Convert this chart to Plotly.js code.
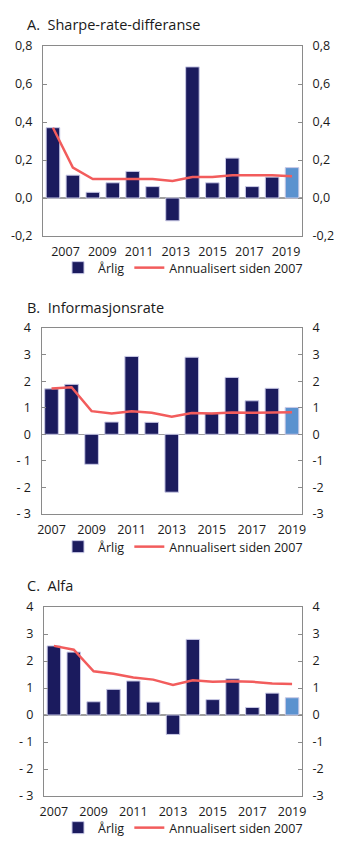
<!DOCTYPE html>
<html>
<head>
<meta charset="utf-8">
<script src="https://cdn.plot.ly/plotly-3.0.1.min.js"></script>
<style>
html,body{margin:0;padding:0;background:#fff;}
#chart{width:345px;height:851px;}
</style>
</head>
<body>
<div id="chart"></div>
<script>
const years = [2007,2008,2009,2010,2011,2012,2013,2014,2015,2016,2017,2018,2019];
const xTickLabels = ['2007','2009','2011','2013','2015','2017','2019'];

const sharpeAnnual = [0.37,0.12,0.03,0.08,0.14,0.06,-0.12,0.69,0.08,0.21,0.06,0.11,0.16];
const sharpeSince  = [0.37,0.16,0.10,0.10,0.10,0.10,0.09,0.11,0.11,0.12,0.12,0.12,0.115];

const infoAnnual = [1.71,1.88,-1.13,0.46,2.93,0.45,-2.18,2.90,0.80,2.14,1.26,1.73,1.01];
const infoSince  = [1.72,1.77,0.87,0.78,0.87,0.81,0.66,0.80,0.78,0.82,0.81,0.83,0.83];

const alfaAnnual = [2.56,2.33,0.49,0.95,1.26,0.48,-0.72,2.80,0.57,1.34,0.28,0.81,0.64];
const alfaSince  = [2.56,2.42,1.62,1.53,1.39,1.31,1.11,1.29,1.23,1.25,1.23,1.17,1.15];

const sharpeTickVals = [-0.2,0,0.2,0.4,0.6,0.8];
const sharpeTickText = ['-0,2','0,0','0,2','0,4','0,6','0,8'];
const rateTickVals = [-3,-2,-1,0,1,2,3,4];
const rateTickTextLeft = ['- 3','- 2','- 1','0','1','2','3','4'];
const rateTickTextRight = ['-3','-2','-1','0','1','2','3','4'];

const titles = ['A.  Sharpe-rate-differanse','B.  Informasjonsrate','C.  Alfa'];
const barName = 'Årlig';
const lineName = 'Annualisert siden 2007';

const NAVY = '#1b1b5e';
const LIGHT = '#5b92cf';
const RED = '#f25c5c';
const AX = '#8a8a8a';
const TXT = '#1a1a1a';
const FONT = 'Open Sans, Noto Sans, sans-serif';

const barColors = years.map((y,i)=> i===years.length-1 ? LIGHT : NAVY);

const panels = [
  {annual: sharpeAnnual, since: sharpeSince, xa:'x', ya:'y', leg:'legend'},
  {annual: infoAnnual, since: infoSince, xa:'x2', ya:'y3', leg:'legend2'},
  {annual: alfaAnnual, since: alfaSince, xa:'x3', ya:'y5', leg:'legend3'}
];

const data = [];
panels.forEach(p=>{
  data.push({type:'bar', x:years, y:p.annual, xaxis:p.xa, yaxis:p.ya, name:barName, legend:p.leg,
    marker:{color:barColors, line:{color:'#c9c9e6', width:1}}, width:0.68, hoverinfo:'x+y'});
  data.push({type:'scatter', mode:'lines', x:years, y:p.since, xaxis:p.xa, yaxis:p.ya, name:lineName, legend:p.leg,
    line:{color:RED, width:2.5}});
});

function H(px){ return 1 - px/851; }
function W(px){ return px/345; }

function xAxis(domain, yAnchor, shifted){
  const ax = {domain:domain, anchor:yAnchor, range:[2006.5,2019.5], showgrid:false, zeroline:false,
    showline:true, mirror:true, linecolor:AX, linewidth:1, ticks:'', ticklabelstandoff:4,
    tickfont:{family:FONT, size:12.5, color:TXT}, fixedrange:true};
  if(shifted){
    ax.tickvals = xTickLabels.map((t,i)=> 2007.63 + i*1.845);
  } else {
    ax.tickvals = xTickLabels.map(t=> +t);
  }
  ax.ticktext = xTickLabels;
  return ax;
}
function yAxis(domain, xAnchor, range, vals, text, side, overlay){
  const ax = {domain:domain, anchor:xAnchor, range:range, tickvals:vals, ticktext:text, side:side,
    showgrid:false, zeroline:true, zerolinecolor:'#a0a0a0', zerolinewidth:1.5,
    showline:true, linecolor:AX, linewidth:1, ticks:'inside', ticklen:4, tickcolor:AX,
    ticklabelstandoff:7,
    tickfont:{family:FONT, size:12.5, color:TXT}, fixedrange:true};
  if(overlay){ ax.overlaying = overlay; ax.zeroline = false; }
  return ax;
}

const dA = [H(236), H(46)], dB = [H(514), H(328)], dC = [H(796), H(607)];
const xdA = [W(43), W(302)], xdB = [W(41.5), W(302)], xdC = [W(44), W(302)];

function legend(yPx){
  return {orientation:'h', x:W(58), xanchor:'left', y:H(yPx), yanchor:'middle',
    font:{family:FONT, size:12.5, color:TXT}, bgcolor:'rgba(0,0,0,0)', itemwidth:30, tracegroupgap:0, entrywidth:0};
}

const layout = {
  width:345, height:851, margin:{l:0,r:0,t:0,b:0}, paper_bgcolor:'#fff', plot_bgcolor:'#fff',
  font:{family:FONT, size:12, color:TXT},
  barmode:'overlay', showlegend:true,
  xaxis: xAxis(xdA,'y',true),
  yaxis: yAxis(dA,'x',[-0.2,0.8],sharpeTickVals,sharpeTickText,'left'),
  yaxis2: yAxis(dA,'x',[-0.2,0.8],sharpeTickVals,sharpeTickText,'right','y'),
  xaxis2: xAxis(xdB,'y3',false),
  yaxis3: yAxis(dB,'x2',[-3,4],rateTickVals,rateTickTextLeft,'left'),
  yaxis4: yAxis(dB,'x2',[-3,4],rateTickVals,rateTickTextRight,'right','y3'),
  xaxis3: xAxis(xdC,'y5',false),
  yaxis5: yAxis(dC,'x3',[-3,4],rateTickVals,rateTickTextLeft,'left'),
  yaxis6: yAxis(dC,'x3',[-3,4],rateTickVals,rateTickTextRight,'right','y5'),
  legend: legend(268),
  legend2: legend(547),
  legend3: legend(828),
  annotations: [
    {text:titles[0], xref:'paper', yref:'paper', x:W(25), y:H(25), xanchor:'left', yanchor:'middle', showarrow:false, font:{family:FONT,size:14.5,color:TXT}},
    {text:titles[1], xref:'paper', yref:'paper', x:W(25), y:H(307), xanchor:'left', yanchor:'middle', showarrow:false, font:{family:FONT,size:14.5,color:TXT}},
    {text:titles[2], xref:'paper', yref:'paper', x:W(25), y:H(585), xanchor:'left', yanchor:'middle', showarrow:false, font:{family:FONT,size:14.5,color:TXT}}
  ]
};

// right-axis traces need a y2/y4/y6 reference to show those axes
[['x','y2',sharpeAnnual],['x2','y4',infoAnnual],['x3','y6',alfaAnnual]].forEach(a=>{
  data.push({type:'scatter', mode:'none', x:[years[0]], y:[a[2][0]], xaxis:a[0], yaxis:a[1], showlegend:false, hoverinfo:'skip'});
});

Plotly.newPlot('chart', data, layout, {staticPlot:true, displayModeBar:false});
</script>
</body>
</html>
